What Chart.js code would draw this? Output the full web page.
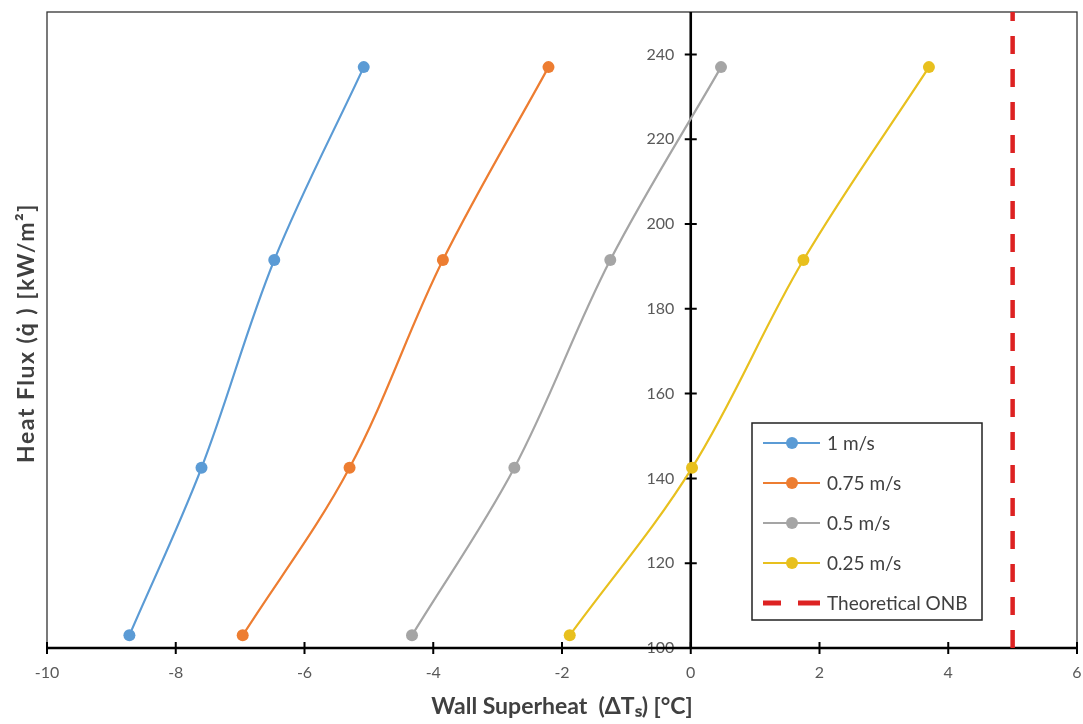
<!DOCTYPE html>
<html>
<head>
<meta charset="utf-8">
<script src="https://cdn.jsdelivr.net/npm/chart.js@4.4.1/dist/chart.umd.min.js"></script>
<style>
  html, body { margin: 0; padding: 0; background: #fff; }
  #wrap { width: 1083px; height: 724px; }
</style>
</head>
<body>
<div id="wrap"><canvas id="heat-flux"></canvas></div>
<script>
// heat flux values (kW/m2) shared by every velocity series
var fluxValues = [103, 142.5, 191.5, 237];

// wall superheat readings for each velocity
var superheat1 = [-8.72, -7.6, -6.47, -5.08];
var superheat075 = [-6.96, -5.3, -3.85, -2.21];
var superheat05 = [-4.33, -2.74, -1.25, 0.47];
var superheat025 = [-1.88, 0.02, 1.75, 3.7];

var onbX = [5, 5];
var onbY = [100, 250];

var xTicks = [-10, -8, -6, -4, -2, 0, 2, 4, 6];
var yTicks = [100, 120, 140, 160, 180, 200, 220, 240];

var seriesNames = ['1 m/s', '0.75 m/s', '0.5 m/s', '0.25 m/s', 'Theoretical ONB'];
var seriesColors = ['#5B9BD5', '#ED7D31', '#A5A5A5', '#E8C01E', '#DD2222'];

function pairs(xs, ys) {
    var out = [];
    for (var i = 0; i < xs.length; i++) out.push({ x: xs[i], y: ys[i] });
    return out;
}

function speedSet(i, xs) {
    return {
        label: seriesNames[i],
        data: pairs(xs, fluxValues),
        showLine: true,
        borderColor: seriesColors[i],
        backgroundColor: seriesColors[i],
        borderWidth: 2.2,
        pointRadius: 6,
        pointHoverRadius: 6,
        pointBorderWidth: 0,
        tension: 0.35
    };
}

// tick marks crossing the axis lines, plot frame, y title and inner legend
var decor = {
    id: 'decor',
    beforeDatasetsDraw: function (chart) {
        var c = chart.ctx, a = chart.chartArea;
        var sx = chart.scales.x, sy = chart.scales.y;
        c.save();
        c.strokeStyle = '#333';
        c.lineWidth = 1.3;
        c.strokeRect(a.left, a.top, a.right - a.left, a.bottom - a.top);
        var x0 = sx.getPixelForValue(0);
        c.strokeStyle = '#000';
        c.lineWidth = 2.6;
        c.beginPath();
        c.moveTo(a.left, a.bottom); c.lineTo(a.right, a.bottom);
        c.moveTo(x0, a.top); c.lineTo(x0, a.bottom);
        c.stroke();
        c.lineWidth = 2;
        c.beginPath();
        xTicks.forEach(function (v) {
            var px = sx.getPixelForValue(v);
            c.moveTo(px, a.bottom - 6); c.lineTo(px, a.bottom + 6);
        });
        yTicks.forEach(function (v) {
            var py = sy.getPixelForValue(v);
            c.moveTo(x0 - 6, py); c.lineTo(x0 + 6, py);
        });
        c.stroke();
        c.restore();
    },
    afterDraw: function (chart) {
        var c = chart.ctx, a = chart.chartArea;
        c.save();
        c.fillStyle = '#404040';
        c.font = 'bold 23px Lato';
        c.letterSpacing = '1.5px';
        c.translate(27, 333);
        c.rotate(-Math.PI / 2);
        c.textAlign = 'center';
        c.textBaseline = 'middle';
        c.fillText('Heat Flux (q\u0307 ) [kW/m\u00B2]', 0, 0);
        c.restore();

        // legend box
        var lx = 752, ly = 423, lw = 230, lh = 197;
        c.save();
        c.fillStyle = '#fff';
        c.fillRect(lx, ly, lw, lh);
        c.strokeStyle = '#222';
        c.lineWidth = 1.5;
        c.strokeRect(lx, ly, lw, lh);
        c.font = '19px Lato';
        c.textBaseline = 'middle';
        for (var i = 0; i < seriesNames.length; i++) {
            var ry = ly + 20 + i * 40;
            c.strokeStyle = seriesColors[i];
            c.fillStyle = seriesColors[i];
            if (i < 4) {
                c.lineWidth = 2.2;
                c.beginPath(); c.moveTo(lx + 11, ry); c.lineTo(lx + 68, ry); c.stroke();
                c.beginPath(); c.arc(lx + 40, ry, 6, 0, Math.PI * 2); c.fill();
            } else {
                c.lineWidth = 5;
                c.beginPath();
                c.moveTo(lx + 11, ry); c.lineTo(lx + 29, ry);
                c.moveTo(lx + 46, ry); c.lineTo(lx + 68, ry);
                c.stroke();
            }
            c.fillStyle = '#404040';
            c.fillText(seriesNames[i], lx + 75, ry + 1);
        }
        c.restore();
    }
};

window.onload = function () {
    var ctx = document.getElementById('heat-flux').getContext('2d');
    var chart = new Chart(ctx, {
        type: 'scatter',
        data: {
            datasets: [
                speedSet(0, superheat1),
                speedSet(1, superheat075),
                speedSet(2, superheat05),
                speedSet(3, superheat025),
                {
                    label: seriesNames[4],
                    data: pairs(onbX, onbY),
                    showLine: true,
                    borderColor: seriesColors[4],
                    borderWidth: 4.5,
                    borderDash: [18, 15],
                    pointRadius: 0
                }
            ]
        },
        options: {
            responsive: true,
            maintainAspectRatio: false,
            animation: false,
            layout: { padding: { left: 47, right: 5, top: 12, bottom: 0 } },
            plugins: {
                legend: { display: false },
                tooltip: { enabled: false }
            },
            scales: {
                x: {
                    type: 'linear',
                    min: -10,
                    max: 6,
                    afterBuildTicks: function (s) { s.ticks = xTicks.map(function (v) { return { value: v }; }); },
                    afterFit: function (s) { s.height = 76; s.paddingLeft = 0; s.paddingRight = 0; },
                    grid: { display: false },
                    border: { display: false },
                    ticks: { color: '#595959', font: { family: 'Lato', size: 16 }, padding: 7 },
                    title: {
                        display: true,
                        text: 'Wall Superheat  (\u0394T\u209B) [\u00B0C]',
                        color: '#404040',
                        font: { family: 'Lato', size: 23, weight: 'bold' },
                        padding: { top: 1, bottom: 4 }
                    }
                },
                y: {
                    type: 'linear',
                    position: { x: 0 },
                    min: 100,
                    max: 250,
                    afterBuildTicks: function (s) { s.ticks = yTicks.map(function (v) { return { value: v }; }); },
                    afterFit: function (s) { s.paddingTop = 0; s.paddingBottom = 0; },
                    grid: { display: false },
                    border: { display: false },
                    ticks: {
                        color: '#595959',
                        font: { family: 'Lato', size: 16 },
                        callback: function (v) { return v + '    '; }
                    }
                }
            }
        },
        plugins: [decor]
    });
};
</script>
</body>
</html>
